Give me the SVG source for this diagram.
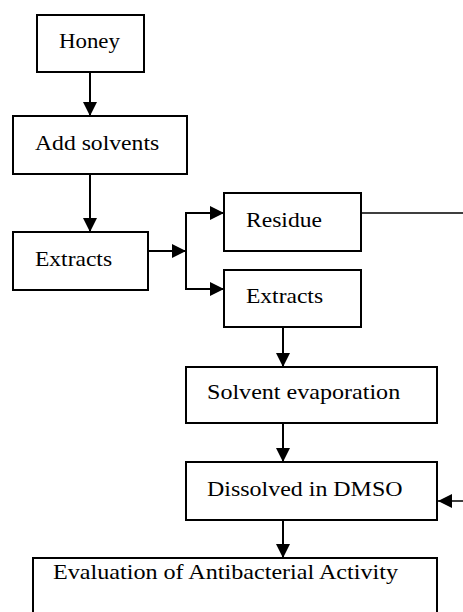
<svg xmlns="http://www.w3.org/2000/svg" width="463" height="612" viewBox="0 0 463 612">
  <style>
    .box { fill: #ffffff; stroke: #000000; stroke-width: 2; }
    .lbl { font-family: "Liberation Serif", "Times New Roman", serif; font-size: 20.5px; fill: #000000; }
    .link { fill: none; stroke: #000000; stroke-width: 2; }
    .thin { fill: none; stroke: #000000; stroke-width: 1.5; }
  </style>
  <defs>
    <marker id="head" viewBox="0 0 14 14" refX="14" refY="7" markerWidth="14" markerHeight="14" markerUnits="userSpaceOnUse" orient="auto">
      <path d="M0,0 L14,7 L0,14 Z" fill="#000000"/>
    </marker>
  </defs>
  <rect width="463" height="612" fill="#ffffff"/>

  <g id="connectors">
    <line class="link" x1="90" y1="72" x2="90" y2="116" marker-end="url(#head)"/>
    <line class="link" x1="90" y1="174" x2="90" y2="232" marker-end="url(#head)"/>
    <line class="link" x1="148" y1="251" x2="186" y2="251" marker-end="url(#head)"/>
    <line class="link" x1="186" y1="212" x2="186" y2="290"/>
    <line class="link" x1="185" y1="213" x2="224" y2="213" marker-end="url(#head)"/>
    <line class="link" x1="185" y1="289" x2="224" y2="289" marker-end="url(#head)"/>
    <line class="link" x1="283" y1="327" x2="283" y2="367" marker-end="url(#head)"/>
    <line class="link" x1="283" y1="423" x2="283" y2="462" marker-end="url(#head)"/>
    <line class="link" x1="283" y1="520" x2="283" y2="558" marker-end="url(#head)"/>
    <polyline class="thin" points="361,213 465,213 465,501 438,501" marker-end="url(#head)"/>
  </g>

  <!-- labels are set in a horizontally widened serif (scale 1.15 on x) -->
  <g id="honey">
    <rect class="box" x="37" y="15" width="107" height="57"/>
    <text class="lbl" transform="translate(59,48) scale(1.15,1)" textLength="53" lengthAdjust="spacingAndGlyphs">Honey</text>
  </g>
  <g id="add-solvents">
    <rect class="box" x="13" y="116" width="174" height="58"/>
    <text class="lbl" transform="translate(35,150) scale(1.15,1)" textLength="108" lengthAdjust="spacingAndGlyphs">Add solvents</text>
  </g>
  <g id="extracts-1">
    <rect class="box" x="13" y="232" width="135" height="58"/>
    <text class="lbl" transform="translate(35,266) scale(1.15,1)" textLength="67" lengthAdjust="spacingAndGlyphs">Extracts</text>
  </g>
  <g id="residue">
    <rect class="box" x="224" y="193" width="137" height="58"/>
    <text class="lbl" transform="translate(246,227) scale(1.15,1)" textLength="66" lengthAdjust="spacingAndGlyphs">Residue</text>
  </g>
  <g id="extracts-2">
    <rect class="box" x="224" y="270" width="137" height="57"/>
    <text class="lbl" transform="translate(246,303) scale(1.15,1)" textLength="67" lengthAdjust="spacingAndGlyphs">Extracts</text>
  </g>
  <g id="solvent-evaporation">
    <rect class="box" x="186" y="367" width="251" height="56"/>
    <text class="lbl" transform="translate(207,399) scale(1.15,1)" textLength="168" lengthAdjust="spacingAndGlyphs">Solvent evaporation</text>
  </g>
  <g id="dissolved-dmso">
    <rect class="box" x="186" y="462" width="251" height="58"/>
    <text class="lbl" transform="translate(207,496) scale(1.15,1)" textLength="170" lengthAdjust="spacingAndGlyphs">Dissolved in DMSO</text>
  </g>
  <g id="evaluation">
    <rect class="box" x="33" y="558" width="404" height="70"/>
    <text class="lbl" transform="translate(53,579) scale(1.15,1)" textLength="300" lengthAdjust="spacingAndGlyphs">Evaluation of Antibacterial Activity</text>
  </g>
</svg>
